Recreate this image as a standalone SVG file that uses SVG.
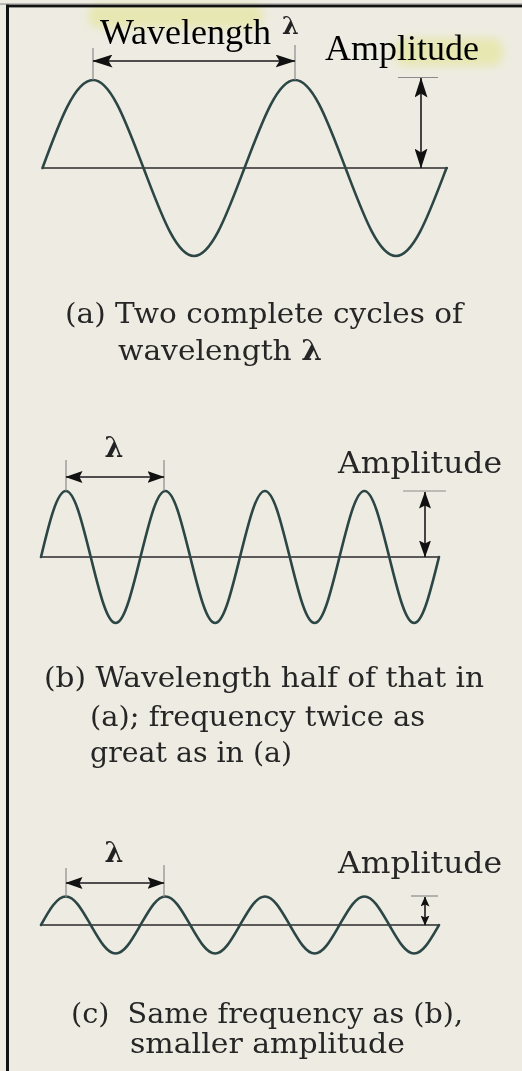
<svg xmlns="http://www.w3.org/2000/svg" width="522" height="1071" viewBox="0 0 522 1071">
<style>
.bg{fill:#EEECE2}
.frame{fill:#111}
.wave{fill:none;stroke:#2c4646;stroke-width:2.6;stroke-linecap:round;stroke-linejoin:round}
.base{fill:none;stroke:#2a2a2a;stroke-width:1.6}
.dim{fill:none;stroke:#1a1a1a;stroke-width:1.6}
.tick{fill:none;stroke:#8a8a8a;stroke-width:1.2}
.lbl{font-family:"Liberation Serif","Times New Roman",serif;font-size:36px;fill:#000}
.cap{font-family:"DejaVu Serif","Liberation Serif",serif;font-size:28px;fill:#262626}
.amp{font-family:"DejaVu Serif","Liberation Serif",serif;font-size:29px;fill:#262626}
.lam{font-family:"DejaVu Serif","Liberation Serif",serif;font-weight:bold;fill:#222}
.hl{fill:#e2e48a;opacity:0.55}
</style>
<defs>
<filter id="blur" x="-20%" y="-50%" width="140%" height="200%"><feGaussianBlur stdDeviation="4"/></filter>
<marker id="ahL" viewBox="0 0 20 13" markerWidth="20" markerHeight="13" refX="19.5" refY="6.5" orient="auto-start-reverse" markerUnits="userSpaceOnUse"><path d="M0,0 L20,6.5 L0,13 L4,6.5 Z" fill="#111"/></marker>
<marker id="ahM" viewBox="0 0 17 12" markerWidth="17" markerHeight="12" refX="16.5" refY="6" orient="auto-start-reverse" markerUnits="userSpaceOnUse"><path d="M0,0 L17,6 L0,12 L3,6 Z" fill="#111"/></marker>
<marker id="ahS" viewBox="0 0 10 9" markerWidth="10" markerHeight="9" refX="9.5" refY="4.5" orient="auto-start-reverse" markerUnits="userSpaceOnUse"><path d="M0,0 L10,4.5 L0,9 L2,4.5 Z" fill="#111"/></marker>
</defs>
<rect class="bg" x="0" y="0" width="522" height="1071"/>
<g id="highlights" filter="url(#blur)">
<rect class="hl" x="88" y="4" width="175" height="24" rx="10"/>
<rect class="hl" x="395" y="38" width="108" height="28" rx="10"/>
</g>
<g id="frame">
<rect x="0" y="3.4" width="522" height="1.3" fill="#9a9a9a"/>
<rect class="frame" x="6" y="4.7" width="516" height="2.7"/>
<rect class="frame" x="6" y="4.7" width="3" height="1066.3"/>
</g>
<g id="panel-a">
<text class="lbl" x="100" y="44">Wavelength</text>
<text class="lam" x="282" y="34" font-size="24">λ</text>
<text class="lbl" x="325" y="60">Amplitude</text>
<line class="base" x1="42" y1="168" x2="448" y2="168"/>
<path class="wave" d="M42.5 168 c16.47 -45.08 32.22 -88 50.5 -88 s34.03 45.08 50.5 88 s32.22 88 50.5 88 s34.03 -45.08 50.5 -88 s32.22 -88 50.5 -88 s34.03 45.08 50.5 88 s32.22 88 50.5 88 s34.03 -45.08 50.5 -88"/>
<text class="cap" x="65" y="323" textLength="398" lengthAdjust="spacingAndGlyphs">(a) Two complete cycles of</text>
<text class="cap" x="118" y="360" textLength="204" lengthAdjust="spacingAndGlyphs">wavelength <tspan font-weight="bold">λ</tspan></text>
</g>
<g id="panel-b">
<text class="lam" x="114" y="457" font-size="27" text-anchor="middle">λ</text>
<text class="amp" x="338" y="473" textLength="164" lengthAdjust="spacingAndGlyphs">Amplitude</text>
<line class="base" x1="41" y1="557" x2="440" y2="557"/>
<path class="wave" d="M41 557 c8.11 -33.81 15.87 -66 24.875 -66 s16.76 33.81 24.875 66 s15.87 66 24.875 66 s16.76 -33.81 24.875 -66 s15.87 -66 24.875 -66 s16.76 33.81 24.875 66 s15.87 66 24.875 66 s16.76 -33.81 24.875 -66 s15.87 -66 24.875 -66 s16.76 33.81 24.875 66 s15.87 66 24.875 66 s16.76 -33.81 24.875 -66 s15.87 -66 24.875 -66 s16.76 33.81 24.875 66 s15.87 66 24.875 66 s16.76 -33.81 24.875 -66"/>
<text class="cap" x="44" y="687" textLength="440" lengthAdjust="spacingAndGlyphs">(b) Wavelength half of that in</text>
<text class="cap" x="90" y="726" textLength="335" lengthAdjust="spacingAndGlyphs">(a); frequency twice as</text>
<text class="cap" x="90" y="762" textLength="202" lengthAdjust="spacingAndGlyphs">great as in (a)</text>
</g>
<g id="panel-c">
<text class="lam" x="114" y="862" font-size="27" text-anchor="middle">λ</text>
<text class="amp" x="338" y="873" textLength="164" lengthAdjust="spacingAndGlyphs">Amplitude</text>
<line class="base" x1="41" y1="925" x2="440" y2="925"/>
<path class="wave" d="M41 925 c8.11 -14.6 15.87 -28.5 24.875 -28.5 s16.76 14.6 24.875 28.5 s15.87 28.5 24.875 28.5 s16.76 -14.6 24.875 -28.5 s15.87 -28.5 24.875 -28.5 s16.76 14.6 24.875 28.5 s15.87 28.5 24.875 28.5 s16.76 -14.6 24.875 -28.5 s15.87 -28.5 24.875 -28.5 s16.76 14.6 24.875 28.5 s15.87 28.5 24.875 28.5 s16.76 -14.6 24.875 -28.5 s15.87 -28.5 24.875 -28.5 s16.76 14.6 24.875 28.5 s15.87 28.5 24.875 28.5 s16.76 -14.6 24.875 -28.5"/>
<text class="cap" x="71" y="1023" textLength="392" lengthAdjust="spacingAndGlyphs">(c)&#160; Same frequency as (b),</text>
<text class="cap" x="130" y="1053" textLength="275" lengthAdjust="spacingAndGlyphs">smaller amplitude</text>
</g>
<g id="connectors">
<line class="tick" x1="93" y1="48" x2="93" y2="80"/>
<line class="tick" x1="295" y1="45" x2="295" y2="80"/>
<line class="dim" x1="93" y1="61" x2="295" y2="61" marker-start="url(#ahL)" marker-end="url(#ahL)"/>
<line class="tick" x1="398" y1="77.5" x2="438" y2="77.5"/>
<line class="dim" x1="421" y1="78" x2="421" y2="168" marker-start="url(#ahL)" marker-end="url(#ahL)"/>
<line class="tick" x1="66" y1="460" x2="66" y2="491"/>
<line class="tick" x1="164" y1="460" x2="164" y2="491"/>
<line class="dim" x1="66" y1="477" x2="164" y2="477" marker-start="url(#ahM)" marker-end="url(#ahM)"/>
<line class="tick" x1="403" y1="491" x2="446" y2="491"/>
<line class="dim" x1="425" y1="492" x2="425" y2="557" marker-start="url(#ahM)" marker-end="url(#ahM)"/>
<line class="tick" x1="66" y1="868" x2="66" y2="897"/>
<line class="tick" x1="164" y1="865" x2="164" y2="897"/>
<line class="dim" x1="66" y1="883" x2="164" y2="883" marker-start="url(#ahM)" marker-end="url(#ahM)"/>
<line class="tick" x1="411" y1="896" x2="438" y2="896"/>
<line class="dim" x1="425" y1="897" x2="425" y2="925" marker-start="url(#ahS)" marker-end="url(#ahS)"/>
</g>
</svg>
